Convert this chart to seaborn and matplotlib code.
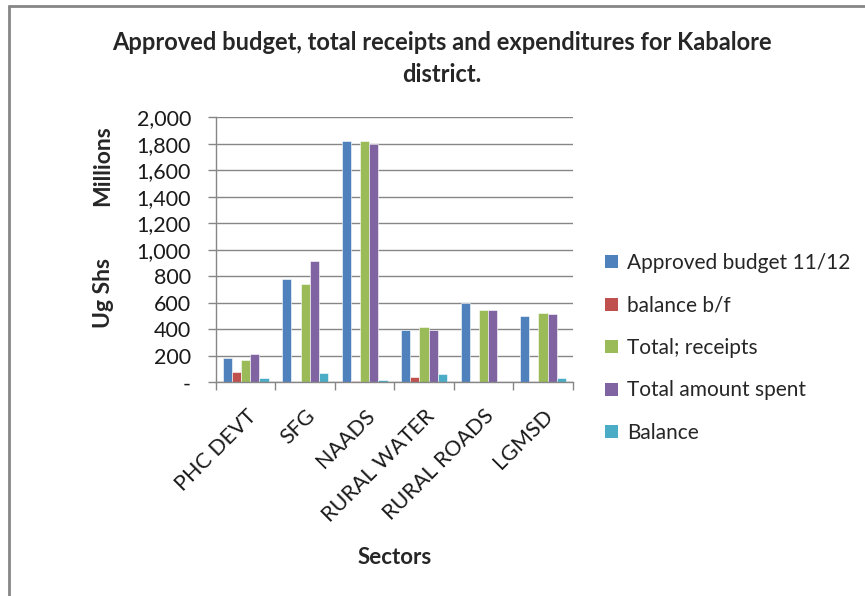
import matplotlib
matplotlib.use("Agg")
import matplotlib.pyplot as plt
from matplotlib.lines import Line2D
from matplotlib.patches import Patch
from matplotlib.ticker import FuncFormatter, MultipleLocator, FixedLocator
import numpy as np
import pandas as pd
import seaborn as sns

sectors = ["PHC DEVT", "SFG", "NAADS", "RURAL WATER", "RURAL ROADS", "LGMSD"]
series_names = ["Approved budget 11/12", "balance b/f", "Total; receipts",
                "Total amount spent", "Balance"]
approved_budget = [186, 780, 1819, 397, 599, 498]
balance_bf = [75, 0, 13, 40, 0, 0]
total_receipts = [169, 740, 1819, 418, 548, 523]
total_spent = [211, 913, 1801, 397, 548, 513]
balance = [33, 73, 15, 65, 0, 33]
colors = ["#4F81BD", "#C0504D", "#9BBB59", "#8064A2", "#4BACC6"]

series_values = [approved_budget, balance_bf, total_receipts, total_spent, balance]
df = pd.DataFrame(
    [(s, name, v) for name, vals in zip(series_names, series_values)
     for s, v in zip(sectors, vals)],
    columns=["Sector", "Series", "Value"],
)

sns.set_theme(style="white")
plt.rcParams["font.family"] = ["Lato", "DejaVu Sans"]

fig = plt.figure(figsize=(8.65, 5.96), dpi=100)
ax = fig.add_axes([216 / 865, 1 - 382.3 / 596, 356.7 / 865, 265 / 596])

sns.barplot(data=df, x="Sector", y="Value", hue="Series", hue_order=series_names,
            palette=colors, width=0.77, saturation=1, ax=ax, legend=False,
            edgecolor="white", linewidth=0.4)

grey = "#868686"
tick_fs = 15.5
ax.set_ylim(0, 2000)
ax.set_xlim(-0.5, len(sectors) - 0.5)
ax.yaxis.set_major_locator(MultipleLocator(200))
ax.yaxis.set_major_formatter(FuncFormatter(lambda v, p: "-" if v == 0 else f"{int(v):,}"))
ax.grid(axis="y", color=grey, linewidth=1.0)
ax.set_axisbelow(True)
for side in ("top", "right"):
    ax.spines[side].set_visible(False)
for side in ("left", "bottom"):
    ax.spines[side].set_color(grey)
    ax.spines[side].set_linewidth(1.0)

ax.tick_params(axis="y", which="major", direction="out", length=6, width=1,
               color=grey, labelsize=tick_fs, pad=12, left=True)
ax.tick_params(axis="x", which="major", length=0, labelsize=tick_fs, pad=17)
ax.xaxis.set_minor_locator(FixedLocator(np.arange(-0.5, len(sectors), 1.0)))
ax.tick_params(axis="x", which="minor", direction="out", length=6, width=1,
               color=grey, bottom=True)
ax.set_xticks(range(len(sectors)))
ax.set_xticklabels(sectors, rotation=45, ha="right", rotation_mode="anchor")
for lbl in ax.get_xticklabels() + ax.get_yticklabels():
    lbl.set_color("#1a1a1a")

ax.set_xlabel("")
ax.set_ylabel("")
fig.text(395 / 865, 1 - 558 / 596, "Sectors", ha="center", va="center",
         fontsize=16, fontweight="bold")
fig.text(103 / 865, 1 - 293 / 596, "Ug Shs", ha="center", va="center",
         rotation=90, fontsize=16.5, fontweight="bold")
fig.text(103 / 865, 1 - 166 / 596, "Millions", ha="center", va="center",
         rotation=90, fontsize=16.5, fontweight="bold")

fig.text(442 / 865, 1 - 43 / 596, "Approved budget, total receipts and expenditures for Kabalore",
         ha="center", va="center", fontsize=17, fontweight="bold")
fig.text(442 / 865, 1 - 75 / 596, "district.", ha="center", va="center",
         fontsize=17, fontweight="bold")

handles = [Patch(facecolor=c, edgecolor="none") for c in colors]
fig.legend(handles, series_names, loc="center left",
           bbox_to_anchor=(605 / 865, 1 - 348 / 596), frameon=False,
           fontsize=15, handlelength=0.6, handleheight=0.6, handletextpad=0.45,
           labelspacing=1.08, borderaxespad=0, borderpad=0)

# outer chart frame: left and top edges
fig.add_artist(Line2D([8.5 / 865, 8.5 / 865], [0, 1 - 5.5 / 596], transform=fig.transFigure,
                      color=grey, linewidth=2))
fig.add_artist(Line2D([8.5 / 865, 1], [1 - 5.5 / 596, 1 - 5.5 / 596], transform=fig.transFigure,
                      color=grey, linewidth=2))

fig.savefig("out.png", dpi=100, facecolor="white")
